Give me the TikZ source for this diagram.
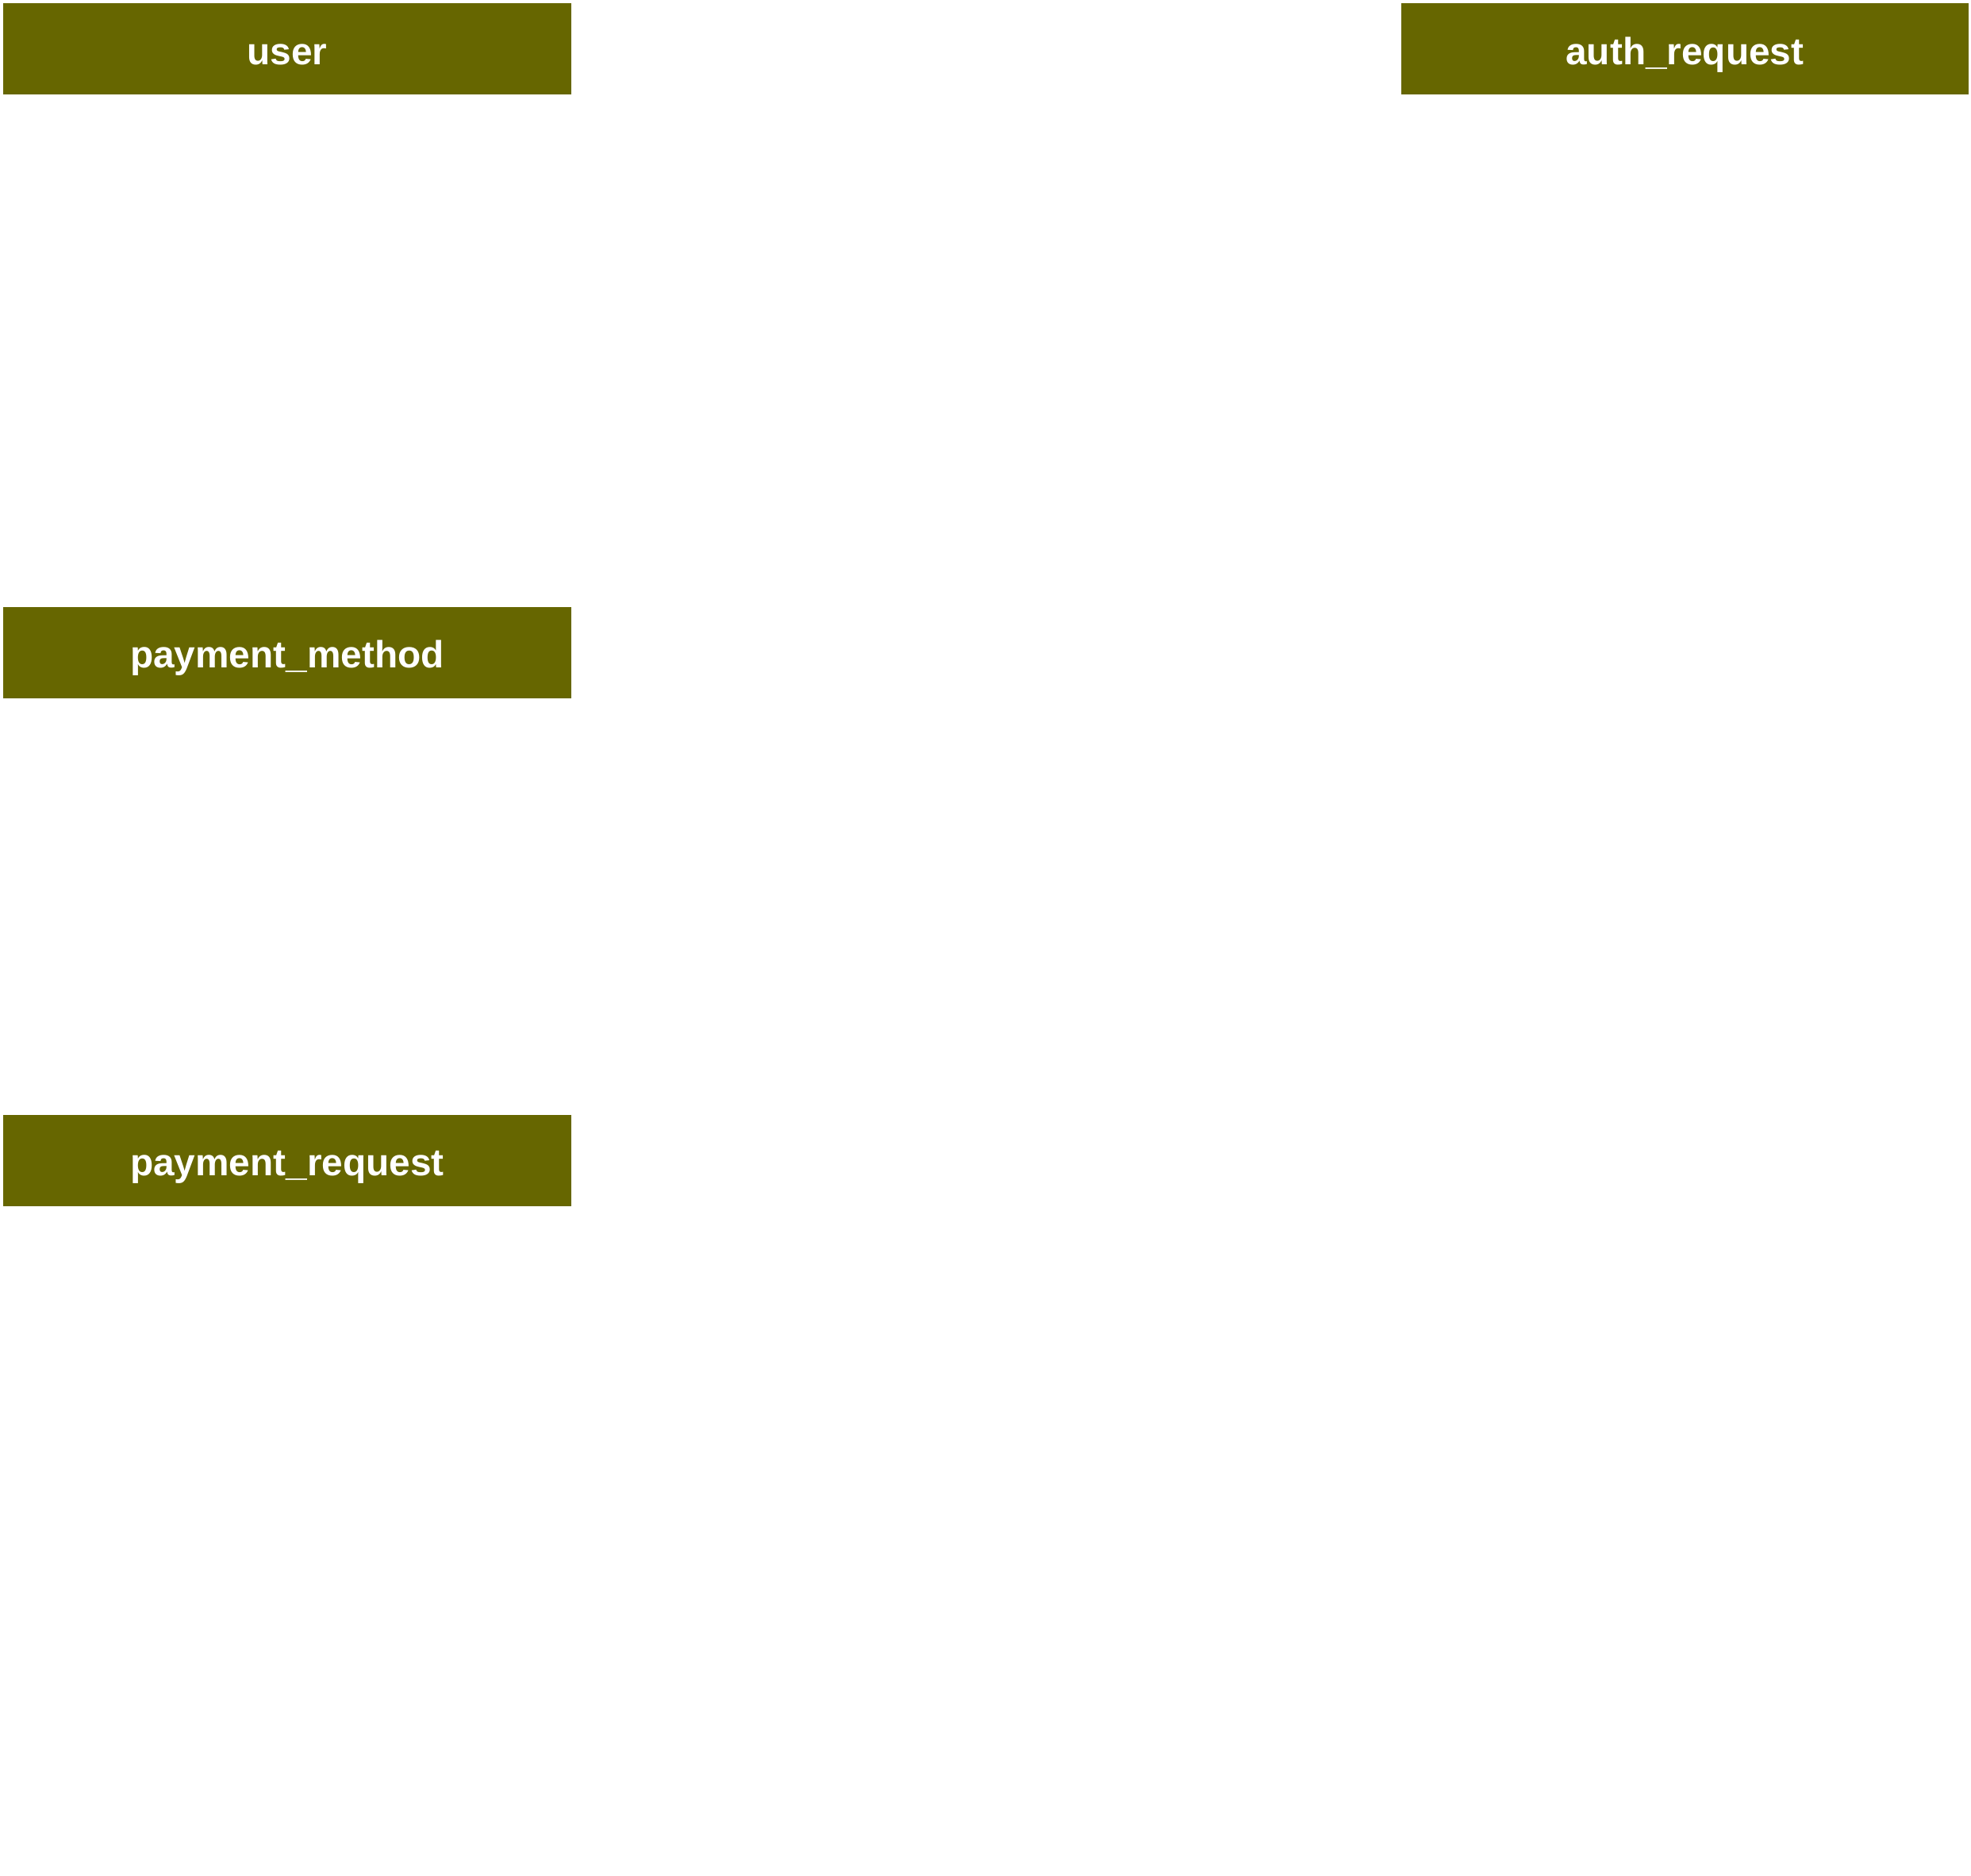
\documentclass[tikz,border=0pt]{standalone}
\usepackage{fontspec}
\setsansfont{Liberation Sans}
\usetikzlibrary{positioning}
\definecolor{tableColor}{RGB}{102,102,0}
\tikzset{table/.style={fill=tableColor, text=white, align=center, minimum width=7.15cm, minimum height=1.15cm, inner sep=0pt, text height=0.38cm, text depth=0cm, font=\sffamily\bfseries\fontsize{13.6}{16}\selectfont}}

\begin{document}
\begin{tikzpicture}
% Frame
\useasboundingbox (0,0) rectangle (24.84,-23.64);

% Tables
\node (user) [table] at (3.62,-0.62) {user};
\node (auth_request) [table, right=10.45cm of user] {auth\_request};
\node (payment_method) [table, below=6.44cm of user] {payment\_method};
\node (payment_request) [table, below=5.24cm of payment_method] {payment\_request};

\end{tikzpicture}
\end{document}
